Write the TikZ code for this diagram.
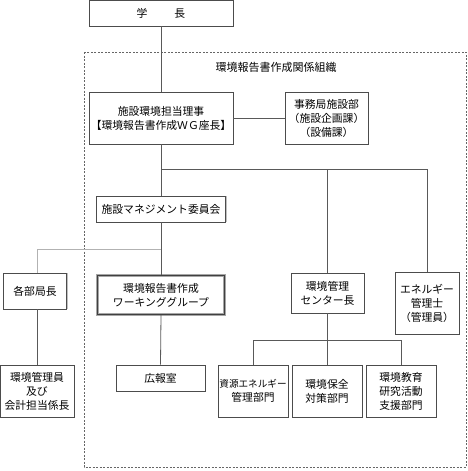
\documentclass[tikz,border=0pt]{standalone}
\usepackage{fontspec}
\setmainfont{Noto Sans CJK JP}
\usepackage{tikz}
\usetikzlibrary{positioning, calc, shadows}

\tikzset{
  unit/.style={draw=black!70, fill=white, line width=0.8pt, align=center, inner sep=0pt,
    font=\fontsize{10.8}{14}\selectfont,
    general shadow={fill=black!25, shadow xshift=1.2pt, shadow yshift=0pt}},
  wgunit/.style={unit, draw=black!35, line width=0.9pt, double=black!75, double distance=0.6pt},
  link/.style={draw=black!65, line width=0.8pt},
  sublink/.style={draw=black!30, line width=1pt},
}

\begin{document}
\begin{tikzpicture}[x=1pt, y=-1pt]
  \useasboundingbox (0,0) rectangle (468,471);

  % Related organisation frame
  \draw[black!60, line width=0.6pt, dash pattern=on 2pt off 1.5pt] (84,52) rectangle (466,467);
  \node[font=\fontsize{11}{13}\selectfont] (title) at (276,67) {環境報告書作成関係組織};

  % Top rows
  \node[unit, minimum width=144pt, minimum height=26pt] (pres) at (161,13) {学\hspace{2.5em}長};
  \node[unit, minimum width=144pt, minimum height=52pt] (dir) at (161,118)
    {施設環境担当理事\\【環境報告書作成ＷＧ座長】};
  \node[unit, minimum width=83pt, minimum height=52pt] (office) at (326.5,118)
    {事務局施設部\\（施設企画課）\\（設備課）};
  \node[unit, minimum width=129pt, minimum height=26pt] (mgmt) at (161,209) {施設マネジメント委員会};

  % Middle row
  \node[unit, minimum width=63pt, minimum height=36pt] (heads) at (35,291) {各部局長};
  \node[wgunit, minimum width=127pt, minimum height=39pt] (wg) at (161,295)
    {環境報告書作成\\ワーキンググループ};
  \node[unit, minimum width=73pt, minimum height=40pt] (center) at (327.5,293)
    {環境管理\\センター長};
  \node[unit, minimum width=64pt, minimum height=62pt] (energy) at (427,303)
    {エネルギー\\管理士\\（管理員）};

  % Bottom row
  \node[unit, minimum width=74pt, minimum height=52pt] (staff) at (37,391)
    {環境管理員\\及び\\会計担当係長};
  \node[unit, minimum width=89pt, minimum height=26pt] (pr) at (160.5,378) {広報室};
  \node[unit, minimum width=70pt, minimum height=52pt, font=\fontsize{9.6}{14}\selectfont] (res) at (253,391)
    {資源エネルギー\\\fontsize{10.8}{14}\selectfont 管理部門};
  \node[unit, minimum width=70pt, minimum height=52pt] (env) at (327,391)
    {環境保全\\対策部門};
  \node[unit, minimum width=70pt, minimum height=52pt] (edu) at (401,391)
    {環境教育\\研究活動\\支援部門};

  % Branch points
  \coordinate (bus) at (161,169);
  \coordinate (split) at (161,249);
  \coordinate (fork) at (327,340);

  % Connectors
  \draw[link] (pres.south) -- (dir.north);
  \draw[link] (dir.east) -- (office.west);
  \draw[link] (dir.south) -- (mgmt.north);
  \draw[link] (bus) -| (energy.north);
  \draw[link] (center.north -| fork) |- (bus);
  \draw[link] (mgmt.south) -- (wg.north);
  \draw[sublink] (split) -| (heads.north -| staff.north);
  \draw[link] (heads.south -| staff.north) -- (staff.north);
  \draw[link] (wg.south) -- (pr.north);
  \draw[link] (center.south -| fork) -- (env.north);
  \draw[link] (fork) -| (res.north);
  \draw[link] (fork) -| (edu.north);
\end{tikzpicture}
\end{document}
